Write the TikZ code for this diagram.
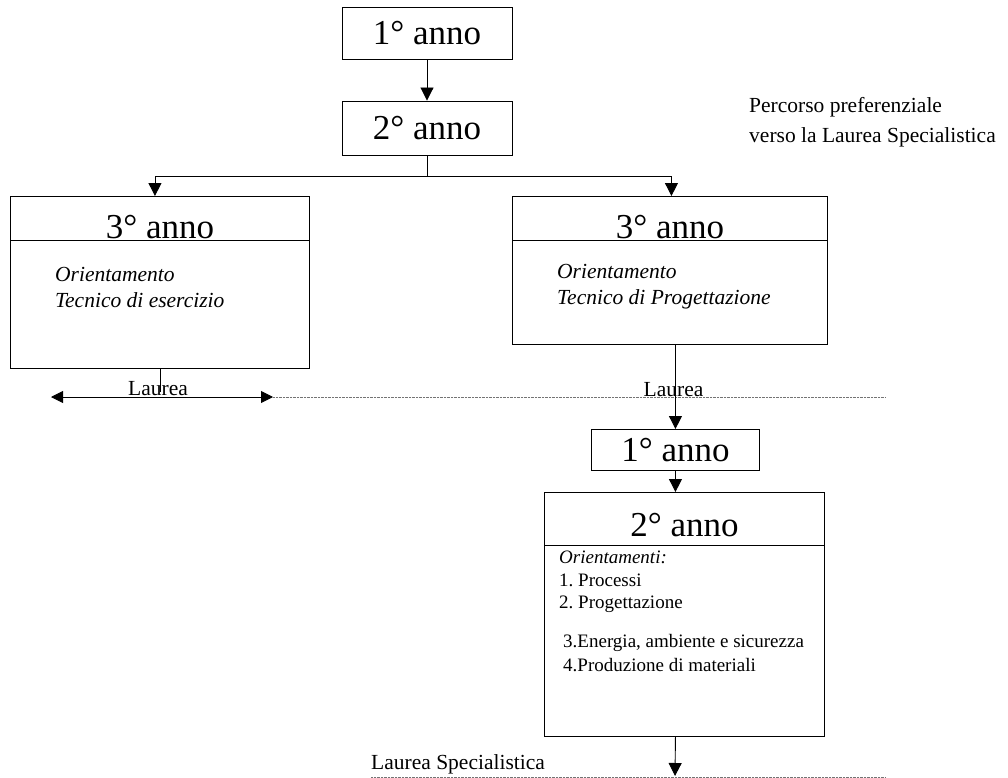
\documentclass[tikz,border=0pt]{standalone}
\usepackage{fontspec}
\setmainfont{Liberation Serif}
\frenchspacing
\usetikzlibrary{arrows.meta,positioning,calc}
\tikzset{
  box/.style={rectangle, draw=black, line width=0.9pt, inner sep=0pt},
  yearlbl/.style={font=\fontsize{35}{40}\selectfont, inner sep=0pt},
  orient/.style={font=\fontsize{21.5}{26}\selectfont\itshape, inner sep=0pt, anchor=base west},
  item/.style={font=\fontsize{19}{22}\selectfont, inner sep=0pt, anchor=base west},
  lbl/.style={font=\fontsize{21.5}{30}\selectfont, inner sep=0pt, anchor=base},
  link/.style={line width=0.9pt},
  flow/.style={-{Triangle[length=13pt,width=13pt]}, line width=0.9pt},
  twoway/.style={{Triangle[length=12pt,width=12pt]}-{Triangle[length=12pt,width=12pt]}, line width=0.9pt},
  gate/.style={dash pattern=on 0.7pt off 0.7pt, line width=0.7pt, draw=black!55},
}
\begin{document}
\begin{tikzpicture}[x=1pt,y=-1pt]
\useasboundingbox (0,0) rectangle (1008,778);

% triennio comune
\node[box, yearlbl, minimum width=170pt, minimum height=52pt] (primo)   at (427,33)  {1° anno};
\node[box, yearlbl, minimum width=170pt, minimum height=54pt] (secondo) at (427,128) {2° anno};
\draw[flow] (primo) -- (secondo);

\node[lbl, anchor=base west, align=left] (percorso) at (749,143)
  {Percorso preferenziale\\verso la Laurea Specialistica};

% i due orientamenti del terzo anno
\node[box, minimum width=299pt, minimum height=172pt, anchor=north west] (terzoA) at (10,196)  {};
\node[box, minimum width=315pt, minimum height=148pt, anchor=north west] (terzoB) at (512,196) {};
\draw[link] ([yshift=-44pt]terzoA.north west) -- ([yshift=-44pt]terzoA.north east);
\draw[link] ([yshift=-44pt]terzoB.north west) -- ([yshift=-44pt]terzoB.north east);
\node[yearlbl, anchor=base] (titoloA) at ([yshift=-42pt]terzoA.north) {3° anno};
\node[yearlbl, anchor=base] (titoloB) at ([yshift=-42pt]terzoB.north) {3° anno};
\node[orient] (orA1) at (55,281)  {Orientamento};
\node[orient] (orA2) at (55,307)  {Tecnico di esercizio};
\node[orient] (orB1) at (557,278) {Orientamento};
\node[orient] (orB2) at (557,304) {Tecnico di Progettazione};

\coordinate (bivio) at ([yshift=-21pt]secondo.south);
\draw[link] (secondo) -- (bivio);
\draw[flow] (bivio) -| ([xshift=-5pt]terzoA.north);
\draw[flow] (bivio) -| ([xshift=1.5pt]terzoB.north);

% uscita con la Laurea
\coordinate (uscitaA) at ([yshift=-23pt]terzoA.south);
\coordinate (laureaL) at (51,397);
\coordinate (laureaR) at (273,397);
\coordinate (sogliaE) at (885,397);
\draw[link] (terzoA) -- (uscitaA);
\draw[twoway] (laureaL) -- (laureaR);
\draw[gate] (laureaR) -- (sogliaE);
\node[lbl] (laureaA) at (158,395)   {Laurea};
\node[lbl] (laureaB) at (673.5,396) {Laurea};

% biennio specialistico
\node[box, yearlbl, minimum width=168pt, minimum height=41pt, anchor=north west] (primoS) at (591,429) {1° anno};
\draw[flow] ([xshift=5.5pt]terzoB.south) -- (primoS.north);

\node[box, minimum width=280pt, minimum height=244pt, anchor=north west] (secondoS) at (544,492) {};
\draw[link] ([yshift=-53pt]secondoS.north west) -- ([yshift=-53pt]secondoS.north east);
\node[yearlbl, anchor=base] (titoloS) at ([yshift=-44pt]secondoS.north) {2° anno};
\draw[flow] (primoS.south) -- (primoS.south |- secondoS.north);

\node[item, font=\fontsize{19}{22}\selectfont\itshape] (orS) at (559,563) {Orientamenti:};
\node[item] (ind1) at (559,586) {1. Processi};
\node[item] (ind2) at (559,608) {2. Progettazione};
\node[item] (ind3) at (563,647) {3.Energia, ambiente e sicurezza};
\node[item] (ind4) at (563,671) {4.Produzione di materiali};

% uscita con la Laurea Specialistica
\coordinate (fine)  at (675,776);
\coordinate (specL) at (371,777);
\coordinate (specR) at (885,777);
\draw[flow] (secondoS.south -| primoS.south) -- (fine);
\draw[gate] (specL) -- (specR);
\node[lbl, anchor=base west] (laureaSpec) at (371,769) {Laurea Specialistica};
\end{tikzpicture}
\end{document}
